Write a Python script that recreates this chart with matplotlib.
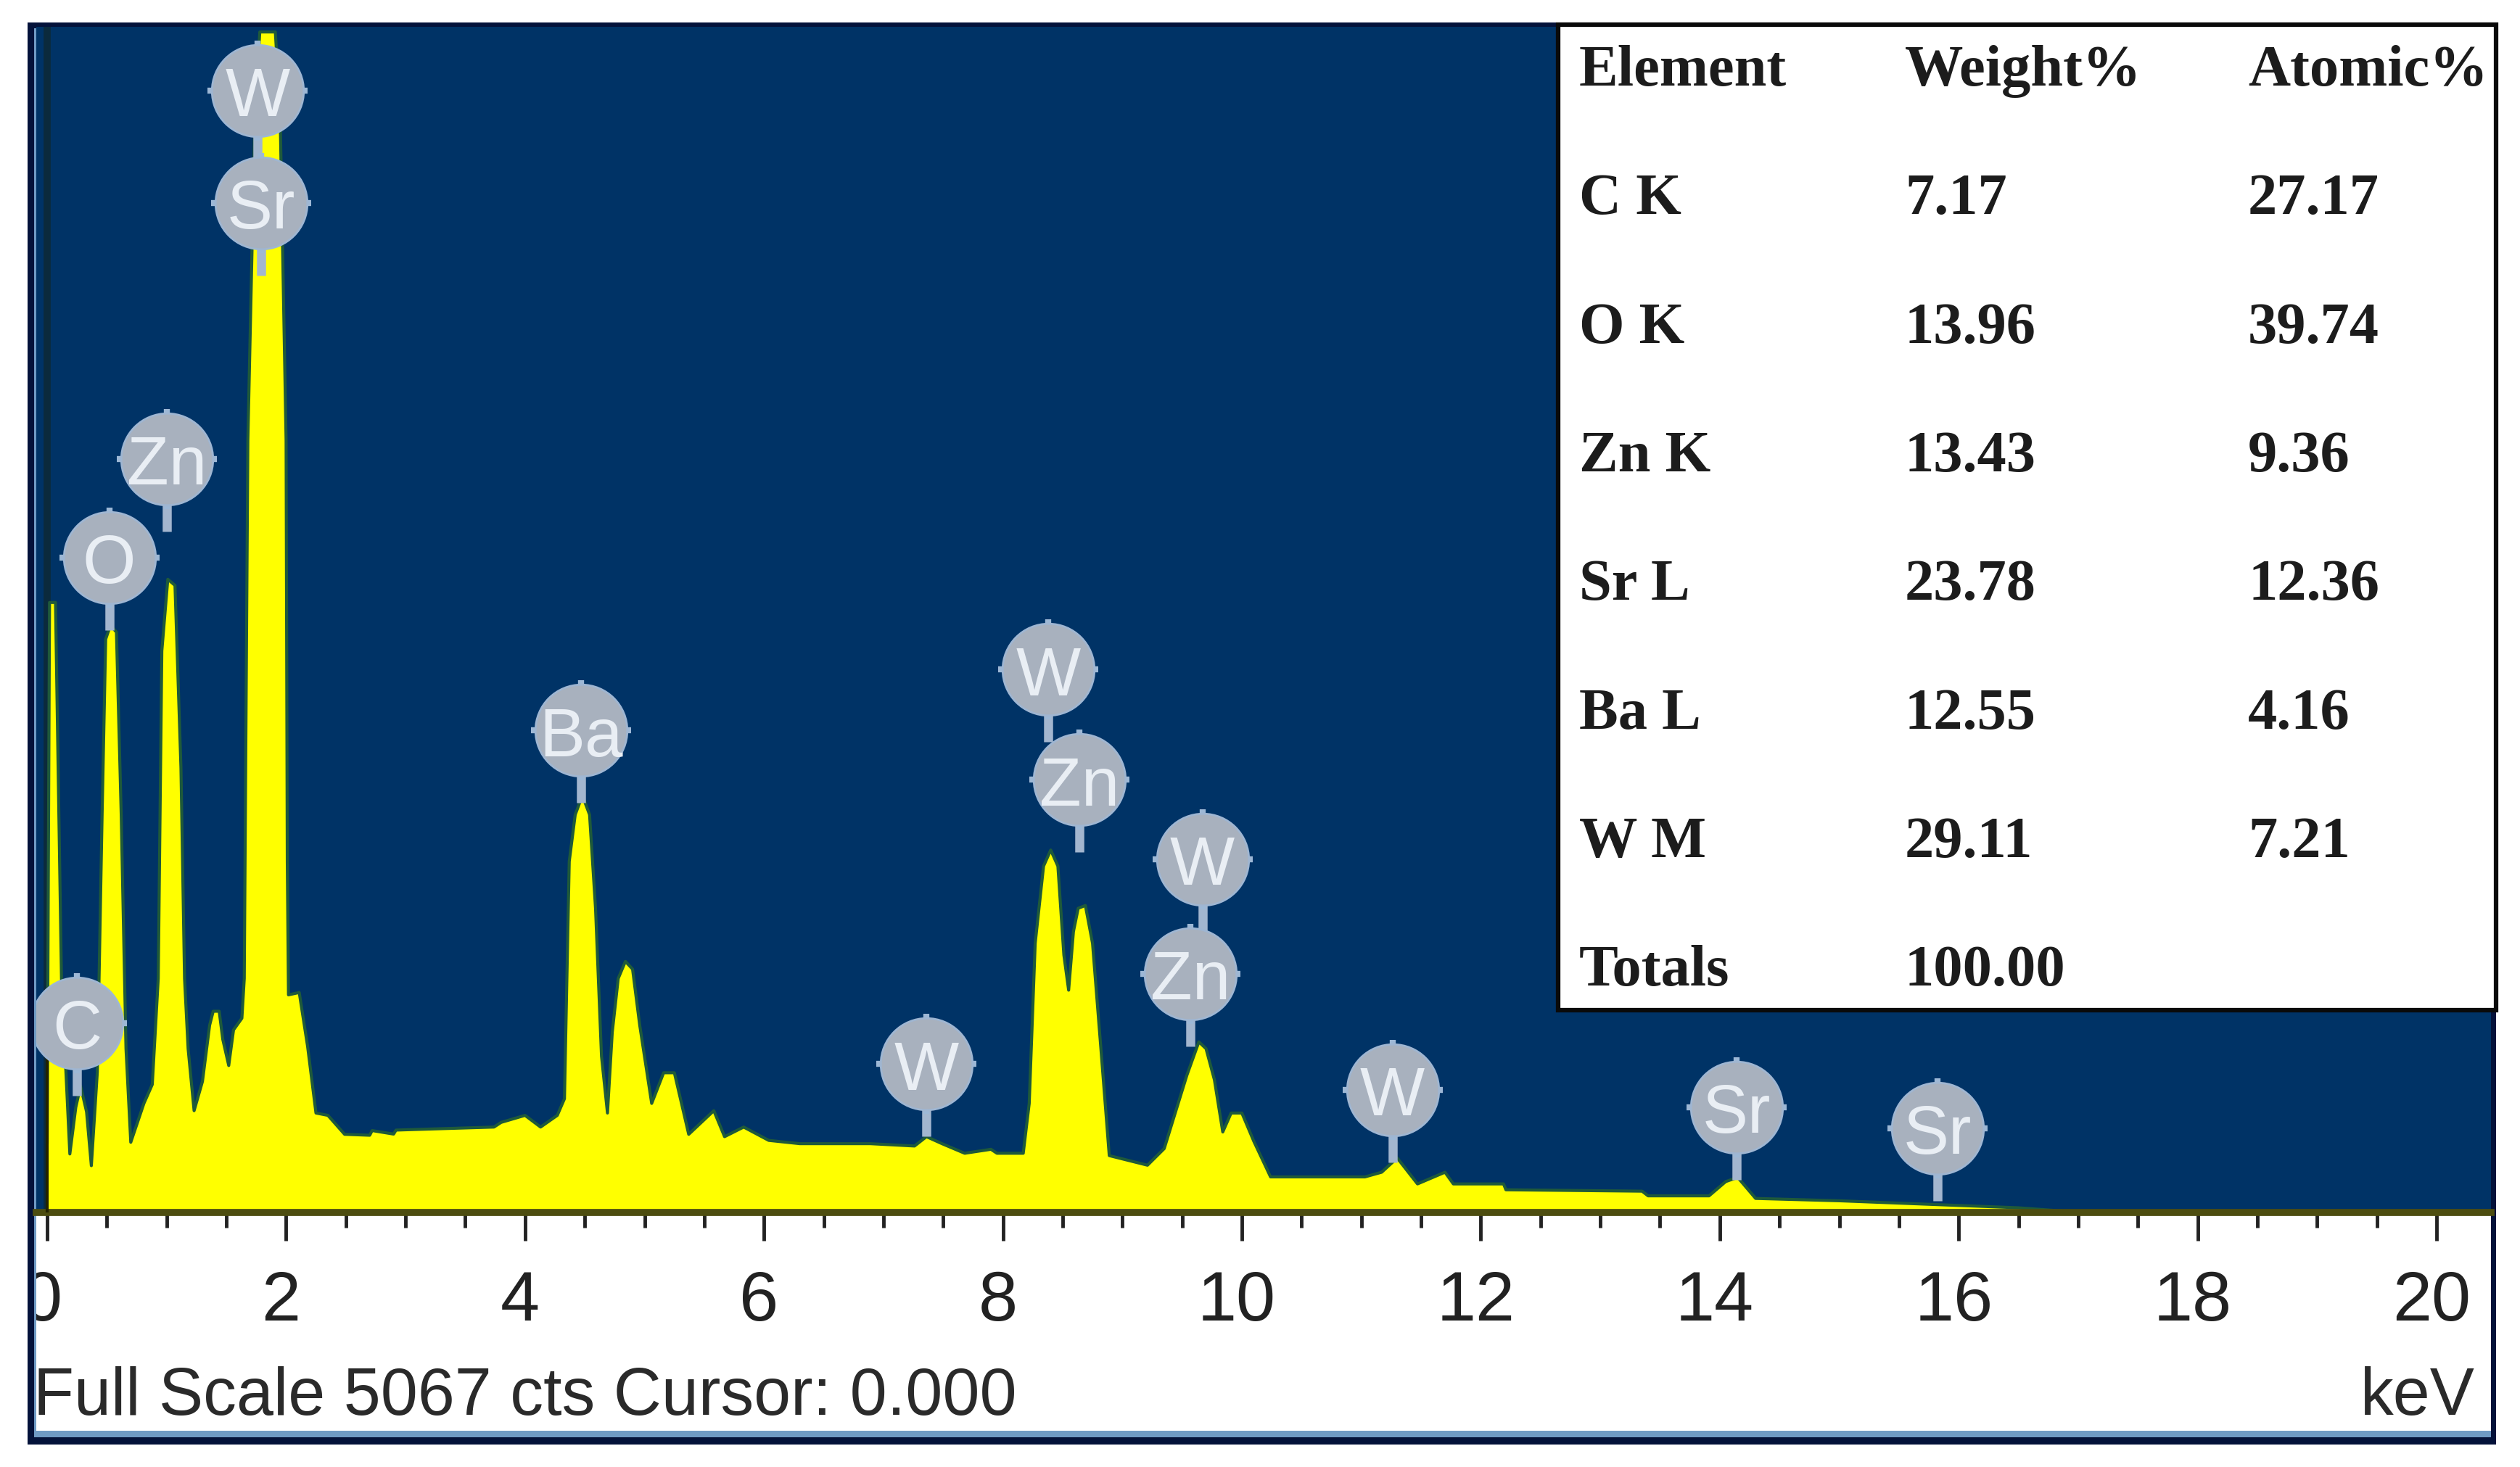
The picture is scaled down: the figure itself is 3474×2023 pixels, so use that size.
"""
EDS spectrum with element table, full scale 5067 cts.
"""
import matplotlib
matplotlib.use('Agg')
import matplotlib.pyplot as plt
from matplotlib.patches import Rectangle
from matplotlib.path import Path
from matplotlib.ticker import MultipleLocator
from matplotlib.transforms import ScaledTranslation

W, H = 3474, 2024
plt.rcParams['font.family'] = ['Liberation Sans', 'DejaVu Sans']

# spectrum
kev = [0.0, 0.02, 0.07, 0.12, 0.19, 0.24, 0.28, 0.33, 0.37, 0.42, 0.46, 0.49, 0.53, 0.58, 0.62, 0.66, 0.70,
       0.81, 0.88, 0.93, 0.96, 1.01, 1.07, 1.12, 1.15, 1.18, 1.23, 1.30, 1.36, 1.39, 1.44, 1.47, 1.52, 1.56, 1.63,
       1.65, 1.68, 1.74, 1.78, 1.91, 1.95, 2.00, 2.01, 2.02, 2.11, 2.18, 2.25, 2.35, 2.49, 2.70, 2.72, 2.90, 2.92,
       3.04, 3.74, 3.80, 4.00, 4.13, 4.27, 4.33, 4.37, 4.42, 4.48, 4.54, 4.59, 4.64, 4.69, 4.73, 4.78, 4.84, 4.90, 4.96,
       5.06, 5.16, 5.25, 5.37, 5.58, 5.67, 5.83, 6.04, 6.30, 6.89, 7.26, 7.36, 7.49, 7.68, 7.90, 7.95, 8.17,
       8.22, 8.27, 8.34, 8.40, 8.46, 8.51, 8.55, 8.59, 8.63, 8.69, 8.75, 8.82, 8.89, 9.21, 9.35, 9.54, 9.64, 9.70, 9.77, 9.84,
       9.91, 10.0, 10.1, 10.24, 11.03, 11.17, 11.30, 11.47, 11.70, 11.77, 12.19, 12.21, 13.35,
       13.40, 13.91, 14.05, 14.15, 14.30, 15.0, 16.0, 16.5, 16.9, 17.0]
counts = [300, 2607, 2607, 1000, 250, 450, 540, 430, 200, 600, 1700, 2450, 2510, 2480, 1700, 700, 300,
          466, 547, 1000, 2400, 2706, 2680, 1900, 1000, 700, 435, 560, 800, 860, 860, 740, 628, 780, 830,
          1000, 3300, 4700, 5045, 5045, 4700, 3300, 1500, 930, 940, 710, 425, 415, 334, 330, 350, 335, 352,
          354, 365, 385, 415, 365, 415, 486, 1500, 1700, 1782, 1700, 1300, 668, 425, 770, 1000, 1073, 1040, 800,
          466, 597, 597, 334, 435, 324, 365, 308, 294, 294, 284, 324, 294, 253, 270, 253, 253,
          466, 1150, 1480, 1549, 1480, 1100, 950, 1200, 1300, 1312, 1150, 700, 243, 202, 273, 587, 729, 700, 567, 344,
          425, 425, 304, 152, 152, 172, 233, 122, 172, 122, 122, 97, 91,
          71, 71, 132, 150, 60, 50, 30, 20, 5, 0]

# element balloons: label, position in keV and cts
balloon_labels = ['W', 'Sr', 'Zn', 'O', 'C', 'Ba', 'W', 'Zn', 'W', 'Zn', 'W', 'W', 'Sr', 'Sr']
balloon_kev = [1.76, 1.79, 1.00, 0.52, 0.25, 4.47, 8.38, 8.64, 9.67, 9.57, 7.36, 11.26, 14.14, 15.82]
balloon_cts = [4795, 4315, 3220, 2800, 810, 2060, 2320, 1850, 1510, 1020, 635, 525, 450, 360]

# table
table_header = ['Element', 'Weight%', 'Atomic%']
table_elements = ['C K', 'O K', 'Zn K', 'Sr L', 'Ba L', 'W M', 'Totals']
table_weight = ['7.17', '13.96', '13.43', '23.78', '12.55', '29.11', '100.00']
table_atomic = ['27.17', '39.74', '9.36', '12.36', '4.16', '7.21', '']

NAVY = '#003366'
YELLOW = '#ffff00'
BALLOON = '#a8b1be'


def px_rect(left, top, right, bottom):
    return [left / W, 1 - bottom / H, (right - left) / W, (bottom - top) / H]


fig = plt.figure(figsize=(W / 100, H / 100), dpi=100, facecolor='white')

# instrument window frame behind the plot
frame = fig.add_axes([0, 0, 1, 1], zorder=0)
frame.set_xlim(0, W)
frame.set_ylim(H, 0)
frame.axis('off')
frame.add_patch(Rectangle((38, 32), 3403, 1961, fc='#04123a', ec='none'))
frame.add_patch(Rectangle((47, 40), 3387, 1943, fc='#6f9ac4', ec='none'))
frame.add_patch(Rectangle((50, 40), 3384, 1934, fc='white', ec='none'))

# spectrum
ax = fig.add_axes(px_rect(50, 38, 3434, 1673), zorder=1, facecolor=NAVY)
ax.set_xlim(-0.091, 20.455)
ax.set_ylim(0, 5067)
ax.fill_between(kev, counts, 0, color=YELLOW, lw=0, zorder=2)
ax.plot(kev, counts, color='#1f5a3a', lw=3, zorder=2.5)
ax.axvline(0, color='#0b2a3c', lw=7, zorder=1.5)
ax.axvline(0, ymax=0.13, color='#222200', lw=3, zorder=3)

stem = Path([(0, 0), (0, -1)])
ax.plot(balloon_kev, balloon_cts, ls='none', marker=stem, ms=144, mew=9,
        color='#a3b6cf', zorder=3)
ax.plot(balloon_kev, balloon_cts, ls='none', marker='+', ms=100, mew=6,
        color='#9db8d6', zorder=3.1)
ax.scatter(balloon_kev, balloon_cts, s=8300, color=BALLOON, edgecolors='#9fb6d2',
           linewidths=2, zorder=3.2)
for label, x, y in zip(balloon_labels, balloon_kev, balloon_cts):
    ax.text(x, y, label, ha='center', va='center_baseline', fontsize=68,
            color='#e9eef4', zorder=4, clip_on=True)

# axis
for side in ['top', 'left', 'right']:
    ax.spines[side].set_visible(False)
ax.spines['bottom'].set_color('#4d4d10')
ax.spines['bottom'].set_linewidth(7)
ax.set_yticks([])
ax.xaxis.set_major_locator(MultipleLocator(2))
ax.xaxis.set_minor_locator(MultipleLocator(0.5))
ax.tick_params(axis='x', which='major', length=28, width=3.5, color='#222222', pad=28,
               labelsize=70, labelcolor='#222222')
ax.tick_params(axis='x', which='minor', length=15, width=3.5, color='#222222')
fig.canvas.draw()
panel_clip = Rectangle((50, 0), W, H, transform=None)
label_shift = ScaledTranslation(-7 / 100, 0, fig.dpi_scale_trans)
for t in ax.get_xticklabels():
    t.set_transform(t.get_transform() + label_shift)
    t.set_clip_on(True)
    t.set_clip_path(panel_clip)

# overlay in image pixels for the status line and table
top = fig.add_axes([0, 0, 1, 1], zorder=2, facecolor='none')
top.set_xlim(0, W)
top.set_ylim(H, 0)
top.axis('off')
top.text(46, 1951, 'Full Scale 5067 cts Cursor: 0.000', fontsize=66, color='#2a2a2a',
         va='baseline', ha='left')
top.text(3412, 1951, 'keV', fontsize=66, color='#2a2a2a', va='baseline', ha='right')

top.add_patch(Rectangle((2148, 35), 1293, 1359, fc='white', ec='#0a0a0a', lw=4.5))
col_x = [2177, 2626, 3099]
row_y0, row_step = 90, 177.3
serif = dict(family='Liberation Serif', fontweight='bold', fontsize=58, color='#1c1c1c',
             va='center_baseline')
for x, head in zip(col_x, table_header):
    top.text(x, row_y0, head, ha='left', **serif)
for i, (el, wt, at) in enumerate(zip(table_elements, table_weight, table_atomic)):
    y = row_y0 + (i + 1) * row_step
    top.text(col_x[0], y, el, ha='left', **serif)
    top.text(col_x[1], y, wt, ha='left', **serif)
    top.text(col_x[2], y, at, ha='left', **serif)

fig.savefig('out.png', dpi=100)
